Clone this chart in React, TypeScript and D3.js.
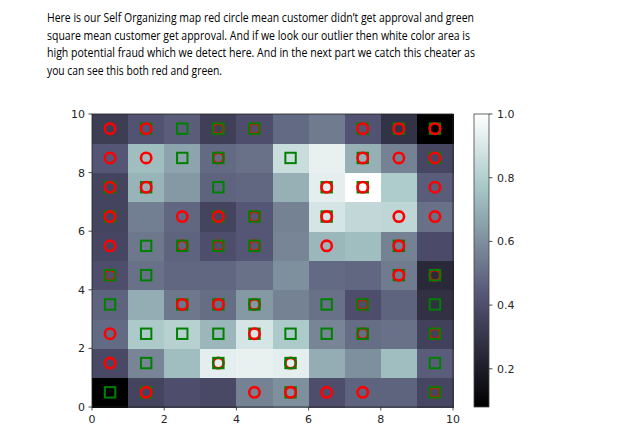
import React from "react";
import * as d3 from "d3";

// SOM distance map, rows from y=0 (bottom) to y=9 (top), columns x=0..9
const distanceRows: number[][] = [
  [0.08, 0.36, 0.40, 0.38, 0.56, 0.60, 0.40, 0.47, 0.47, 0.37],
  [0.38, 0.57, 0.74, 0.93, 0.94, 0.93, 0.69, 0.60, 0.74, 0.45],
  [0.49, 0.78, 0.81, 0.72, 0.89, 0.78, 0.57, 0.50, 0.51, 0.35],
  [0.47, 0.69, 0.53, 0.50, 0.63, 0.56, 0.51, 0.40, 0.47, 0.28],
  [0.40, 0.51, 0.48, 0.48, 0.51, 0.60, 0.49, 0.48, 0.54, 0.25],
  [0.37, 0.53, 0.47, 0.40, 0.43, 0.57, 0.72, 0.74, 0.56, 0.39],
  [0.36, 0.55, 0.48, 0.36, 0.43, 0.56, 0.89, 0.84, 0.83, 0.51],
  [0.36, 0.71, 0.63, 0.47, 0.48, 0.70, 0.93, 1.00, 0.79, 0.45],
  [0.43, 0.74, 0.66, 0.49, 0.51, 0.86, 0.94, 0.70, 0.56, 0.37],
  [0.33, 0.42, 0.45, 0.34, 0.40, 0.49, 0.54, 0.42, 0.29, 0.08],
];

// winning nodes of customers, in drawing order: [x, y, class] (0 = not approved: red circle, 1 = approved: green square)
const winners: [number, number, number][] = [
  // row 9
  [0, 9, 0], [1, 9, 1], [1, 9, 0], [2, 9, 1], [3, 9, 0], [3, 9, 1], [4, 9, 0], [4, 9, 1],
  [7, 9, 1], [7, 9, 0], [8, 9, 1], [8, 9, 0], [9, 9, 1], [9, 9, 0],
  // row 8
  [0, 8, 0], [1, 8, 0], [2, 8, 1], [3, 8, 0], [3, 8, 1], [5, 8, 1], [7, 8, 1], [7, 8, 0],
  [8, 8, 0], [9, 8, 1], [9, 8, 0],
  // row 7
  [0, 7, 1], [0, 7, 0], [1, 7, 1], [1, 7, 0], [3, 7, 1], [6, 7, 1], [6, 7, 0], [7, 7, 1], [7, 7, 0],
  [9, 7, 0],
  // row 6
  [0, 6, 1], [0, 6, 0], [2, 6, 0], [3, 6, 1], [3, 6, 0], [4, 6, 0], [4, 6, 1], [6, 6, 1], [6, 6, 0],
  [8, 6, 0], [9, 6, 0],
  // row 5
  [0, 5, 0], [1, 5, 1], [2, 5, 0], [2, 5, 1], [3, 5, 0], [3, 5, 1], [4, 5, 0], [4, 5, 1],
  [6, 5, 0], [8, 5, 1], [8, 5, 0],
  // row 4
  [0, 4, 0], [0, 4, 1], [1, 4, 1], [8, 4, 1], [8, 4, 0], [9, 4, 0], [9, 4, 1],
  // row 3
  [0, 3, 1], [2, 3, 1], [2, 3, 0], [3, 3, 1], [3, 3, 0], [4, 3, 0], [4, 3, 1], [6, 3, 1],
  [7, 3, 0], [7, 3, 1], [9, 3, 1],
  // row 2
  [0, 2, 0], [1, 2, 1], [2, 2, 1], [3, 2, 1], [4, 2, 1], [4, 2, 0], [5, 2, 1], [6, 2, 1],
  [7, 2, 0], [7, 2, 1], [9, 2, 0], [9, 2, 1],
  // row 1
  [0, 1, 0], [1, 1, 1], [3, 1, 0], [3, 1, 1], [5, 1, 0], [5, 1, 1], [9, 1, 1],
  // row 0
  [0, 0, 1], [1, 0, 1], [1, 0, 0], [4, 0, 0], [5, 0, 1], [5, 0, 0], [6, 0, 0], [7, 0, 0],
  [9, 0, 0], [9, 0, 1],
];

const axisTicks = [0, 2, 4, 6, 8, 10];
const colorbarTicks = [0.2, 0.4, 0.6, 0.8, 1.0];

const captionLines = [
  "Here is our Self Organizing map red circle mean customer didn\u2019t get approval  and green",
  "square mean customer get approval.  And if we look our outlier then white color area is",
  "high potential fraud which we detect here. And in the next part we catch this cheater as",
  "you can see this both  red and green.",
];
const captionWidths = [427, 423, 428, 175];

// matplotlib "bone" colormap
function bone(v: number): string {
  const interp = (pts: [number, number][]) => {
    for (let i = 1; i < pts.length; i++) {
      if (v <= pts[i][0]) {
        const [x0, y0] = pts[i - 1];
        const [x1, y1] = pts[i];
        return y0 + ((v - x0) / (x1 - x0)) * (y1 - y0);
      }
    }
    return pts[pts.length - 1][1];
  };
  const r = interp([[0, 0], [0.746032, 0.652778], [1, 1]]);
  const g = interp([[0, 0], [0.365079, 0.319444], [0.746032, 0.777778], [1, 1]]);
  const b = interp([[0, 0], [0.365079, 0.444444], [1, 1]]);
  return d3.rgb(r * 255, g * 255, b * 255).formatHex();
}

export default function App() {
  const W = 623, H = 448;
  const x = d3.scaleLinear().domain([0, 10]).range([92, 453]);
  const y = d3.scaleLinear().domain([0, 10]).range([407, 114]);
  const vmin = d3.min(distanceRows.flat()) as number;
  const vmax = d3.max(distanceRows.flat()) as number;
  const norm = d3.scaleLinear().domain([vmin, vmax]).range([0, 1]);
  const cb = d3.scaleLinear().domain([vmin, vmax]).range([407, 114]);
  const cbX = 474, cbW = 15;
  const stops = d3.range(0, 1.0001, 0.02);
  const tickFont = "DejaVu Sans";

  return (
    <svg width={W} height={H} style={{ position: "absolute", left: 0, top: 0, background: "#fff" }}>
      <defs>
        <linearGradient id="boneGrad" x1="0" y1="1" x2="0" y2="0">
          {stops.map((s, i) => (
            <stop key={i} offset={s} stopColor={bone(s)} />
          ))}
        </linearGradient>
      </defs>
      {captionLines.map((t, i) => (
        <text key={i} x={47} y={22 + i * 17.7} fontFamily="Open Sans" fontSize={13}
          textLength={captionWidths[i]} lengthAdjust="spacingAndGlyphs" fill="#000">{t}</text>
      ))}
      <g shapeRendering="crispEdges">
        {distanceRows.map((row, j) =>
          row.map((v, i) => (
            <rect key={`${i}-${j}`} x={x(i)} y={y(j + 1)} width={x(i + 1) - x(i) + 0.5}
              height={y(j) - y(j + 1) + 0.5} fill={bone(norm(v))} />
          ))
        )}
      </g>
      {winners.map(([wx, wy, c], k) => {
        const cx = x(wx + 0.5), cy = y(wy + 0.5);
        return c === 0 ? (
          <circle key={k} cx={cx} cy={cy} r={5.2} fill="none" stroke="#ff0000" strokeWidth={2.6} />
        ) : (
          <rect key={k} x={cx - 5.2} y={cy - 5.2} width={10.4} height={10.4} fill="none"
            stroke="#008000" strokeWidth={2} />
        );
      })}
      <rect x={x(0)} y={y(10)} width={x(10) - x(0)} height={y(0) - y(10)} fill="none" stroke="#222" strokeWidth={0.8} />
      {axisTicks.map((t) => (
        <g key={`x${t}`}>
          <line x1={x(t)} x2={x(t)} y1={y(0)} y2={y(0) + 3.5} stroke="#222" strokeWidth={0.8} />
          <text x={x(t)} y={y(0) + 16} textAnchor="middle" fontFamily={tickFont} fontSize={11} fill="#262626">{t}</text>
        </g>
      ))}
      {axisTicks.map((t) => (
        <g key={`y${t}`}>
          <line x1={x(0) - 3.5} x2={x(0)} y1={y(t)} y2={y(t)} stroke="#222" strokeWidth={0.8} />
          <text x={x(0) - 7} y={y(t) + 4} textAnchor="end" fontFamily={tickFont} fontSize={11} fill="#262626">{t}</text>
        </g>
      ))}
      <rect x={cbX} y={cb(vmax)} width={cbW} height={cb(vmin) - cb(vmax)} fill="url(#boneGrad)" stroke="#444" strokeWidth={0.8} />
      {colorbarTicks.map((t) => (
        <g key={`c${t}`}>
          <line x1={cbX + cbW} x2={cbX + cbW + 3.5} y1={cb(t)} y2={cb(t)} stroke="#222" strokeWidth={0.8} />
          <text x={cbX + cbW + 8} y={cb(t) + 4} fontFamily={tickFont} fontSize={11} fill="#262626">{t.toFixed(1)}</text>
        </g>
      ))}
    </svg>
  );
}
